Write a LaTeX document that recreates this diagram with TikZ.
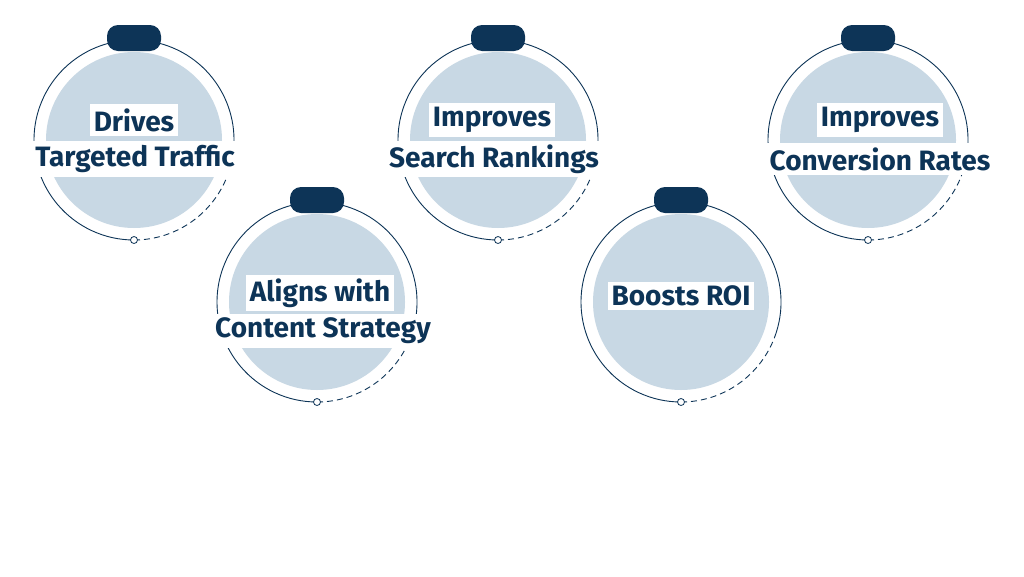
\documentclass[tikz,border=0pt]{standalone}
\usepackage{fontspec}
\setmainfont{Fira Sans}
\begin{document}
\begin{tikzpicture}[x=1pt,y=-1pt,
  lab/.style={fill=white,text=navy,font=\fontsize{28}{30}\selectfont\bfseries,inner xsep=4pt,inner ysep=4pt,anchor=center},
  ring/.style={draw=navy,line width=0.9pt},
  pill/.style={fill=navy,rounded corners=11pt,minimum width=54pt,minimum height=26pt,inner sep=0pt},
  dot/.style={circle,draw=navy,fill=white,line width=0.8pt,minimum size=7pt,inner sep=0pt}]
\definecolor{navy}{HTML}{0D3457}
\definecolor{pale}{HTML}{C8D8E4}
\useasboundingbox (0,0) rectangle (1024,576);
\fill[white] (0,0) rectangle (1024,576);
\newcommand{\badge}[4]{%
  \fill[pale] (#1,#2) circle[radius=88];
  \draw[ring] (#1,#2) ++(20:100) arc[start angle=20,end angle=-270,radius=100];
  \draw[ring,dash pattern=on 6pt off 4pt] (#1,#2) ++(90:100) arc[start angle=90,end angle=20,radius=100];
  \node[pill] (#3p) at (#1,#2-102) {};
  \node[dot] (#3d) at (#1,#2+100) {};
  #4
}
\badge{134}{140}{a}{%
  \node[lab] (a1) at (134,120) {Drives};
  \node[lab] (a2) at (135,159) {Targeted Traffic};}
\badge{317}{302}{b}{%
  \node[lab] (b1) at (320,293) {Aligns with};
  \node[lab] (b2) at (323,331) {Content Strategy};}
\badge{498}{140}{c}{%
  \node[lab] (c1) at (492,120) {Improves};
  \node[lab] (c2) at (494,159) {Search Rankings};}
\badge{681}{302}{d}{%
  \node[lab] (d1) at (681,296) {Boosts ROI};}
\badge{868}{140}{e}{%
  \node[lab] (e1) at (880,120) {Improves};
  \node[lab] (e2) at (880,159) {Conversion Rates};}
\end{tikzpicture}
\end{document}
